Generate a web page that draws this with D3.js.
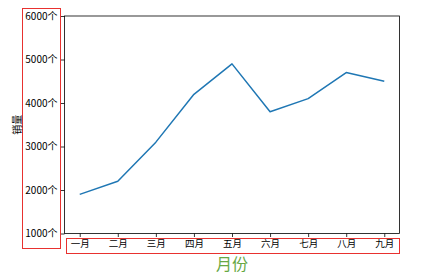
<!DOCTYPE html>
<html><head><meta charset="utf-8">
<script src="https://cdn.jsdelivr.net/npm/d3@7"></script>
<style>body{margin:0;background:#fff}svg{display:block}text{font-family:"Noto Sans CJK SC","DejaVu Sans",sans-serif}</style>
</head><body><svg id="c" width="439" height="279"></svg>
<script>
const months = ["一月","二月","三月","四月","五月","六月","七月","八月","九月"];
const sales = [1900,2200,3100,4200,4900,3800,4100,4700,4500];
const yTicks = [1000,2000,3000,4000,5000,6000];
const yUnit = "个";
const xTitle = "月份";
const yTitle = "销量";

const svg = d3.select("#c");
const L=64.5,R=399.5,T=16,B=233.5;
const x = d3.scalePoint().domain(months).range([L,R]).padding(0.4);
const y = d3.scaleLinear().domain([1000,6000]).range([B,T]);

const line = d3.line().x((d,i)=>x(months[i])).y(d=>y(d));
svg.append("path").datum(sales).attr("d",line).attr("fill","none")
  .attr("stroke","#1f77b4").attr("stroke-width",1.5).attr("stroke-linejoin","round");

svg.append("rect").attr("x",L).attr("y",T).attr("width",R-L).attr("height",B-T)
  .attr("fill","none").attr("stroke","#000").attr("stroke-width",0.8);

const xa = svg.append("g").attr("transform",`translate(0,${B})`)
  .call(d3.axisBottom(x).tickSize(3.5).tickPadding(3));
xa.select(".domain").remove();
xa.selectAll("text").attr("font-size",9.5).attr("fill","#000").attr("font-family",'"Noto Sans CJK SC",sans-serif');
xa.selectAll("line").attr("stroke","#000").attr("stroke-width",0.8);

const ya = svg.append("g").attr("transform",`translate(${L},0)`)
  .call(d3.axisLeft(y).tickValues(yTicks).tickFormat(d=>d+yUnit).tickSize(3.5).tickPadding(3.5));
ya.select(".domain").remove();
ya.selectAll("text").attr("font-size",10).attr("fill","#000").attr("font-family",'"Noto Sans CJK SC",sans-serif');
ya.selectAll("line").attr("stroke","#000").attr("stroke-width",0.8);

// red boxes around tick labels
svg.append("rect").attr("x",22.5).attr("y",8.5).attr("width",38).attr("height",240)
  .attr("fill","none").attr("stroke","#e8312f").attr("stroke-width",1);
svg.append("rect").attr("x",66.5).attr("y",238.5).attr("width",333).attr("height",15)
  .attr("fill","none").attr("stroke","#e8312f").attr("stroke-width",1);

svg.append("text").attr("x",(L+R)/2).attr("y",269.5).attr("text-anchor","middle")
  .attr("font-size",16).attr("fill","#67a844").text(xTitle);
svg.append("text").attr("transform",`translate(21,${(T+B)/2}) rotate(-90)`)
  .attr("text-anchor","middle").attr("font-size",10).attr("fill","#000").text(yTitle);
</script></body></html>
